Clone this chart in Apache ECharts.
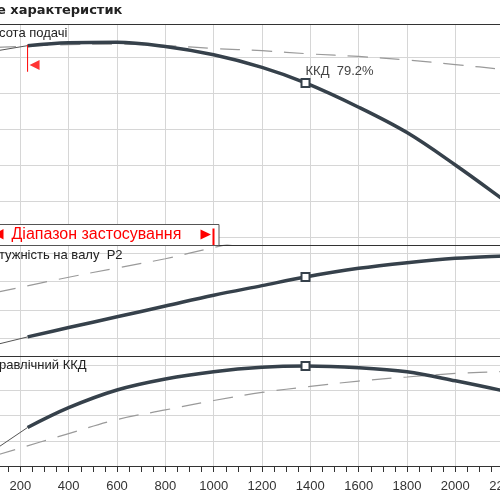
<!DOCTYPE html>
<html>
<head>
<meta charset="utf-8">
<script src="https://cdn.jsdelivr.net/npm/echarts@6/dist/echarts.min.js"></script>
<style>
  html, body { margin: 0; padding: 0; background: #fff; overflow: hidden; width: 500px; height: 500px; }
  /* the plot runs past both sides of the page, as in the cropped reference */
  #chart { position: absolute; left: -28px; top: 0; width: 580px; height: 500px; }
</style>
</head>
<body>
<div id="chart"></div>
<script>
// flow points of the working curves (thick part, inside the range)
const flow = [230, 400, 600, 800, 1000, 1200, 1380, 1600, 1800, 2000, 2200, 2300];
const headValues = [12.63, 12.79, 12.82, 12.58, 12.12, 11.42, 10.56, 9.21, 7.80, 6.00, 4.06, 3.06];
const powerValues = [0.525, 0.69, 0.88, 1.07, 1.26, 1.43, 1.583, 1.735, 1.835, 1.913, 1.955, 1.97];
const effValues = [30.5, 46.2, 60.2, 68.9, 74.7, 78.2, 79.2, 77.9, 74.7, 67.5, 59.5, 55.0];

// thin part of the curves, below the range
const flowLow = [110, 230];
const headLow = [12.36, 12.63];
const powerLow = [0.40, 0.525];
const effLow = [15.0, 30.5];

// dashed comparison curves
const flowRef = [100, 400, 600, 800, 1000, 1200, 1400, 1600, 1800, 2000, 2200, 2300];
const headRef = [12.53, 12.69, 12.72, 12.64, 12.47, 12.35, 12.17, 12.03, 11.83, 11.58, 11.31, 11.17];
const effRef = [8.5, 25.7, 36.8, 44.4, 51.9, 58.3, 63.0, 67.3, 70.5, 73.3, 74.9, 75.4];
const flowPowerRef = [100, 400, 600, 800, 1000, 1200];
const powerRef = [1.31, 1.578, 1.742, 1.905, 2.103, 2.29];

// duty point
const dutyFlow = 1380;
const dutyHead = 10.56;
const dutyPower = 1.583;
const dutyEff = 79.2;

// application range
const rangeStart = 230;
const rangeEnd = 1000;
const rangeMarkHead = [12.67, 11.18];

const darkColor = '#36414b';
const refColor = '#9a9a9a';
const gridColor = '#d6d6d6';
const font = 'Liberation Sans, Arial, sans-serif';
const OX = 28; // page x = chart x - OX

const pairs = (xs, ys) => xs.map((x, i) => [x, ys[i]]);

const chart = echarts.init(document.getElementById('chart'));

const xAxisBase = (gridIndex, showAxis) => ({
  type: 'value',
  gridIndex,
  min: 0,
  max: 2400,
  interval: 200,
  axisLine: { show: showAxis, onZero: false, lineStyle: { color: '#333', width: 1 } },
  axisTick: { show: showAxis, length: 6, lineStyle: { color: '#333' } },
  minorTick: { show: showAxis, splitNumber: 4, length: 6, lineStyle: { color: '#333' } },
  axisLabel: { show: showAxis, margin: 14, color: '#333', fontSize: 13, fontFamily: font, formatter: v => String(v) },
  splitLine: { show: true, showMinLine: false, showMaxLine: false, lineStyle: { color: gridColor, width: 1 } }
});

const yAxisBase = (gridIndex, max, interval) => ({
  type: 'value',
  gridIndex,
  min: 0,
  max,
  interval,
  axisLine: { show: false },
  axisTick: { show: false },
  axisLabel: { show: false },
  splitLine: { show: true, showMinLine: false, showMaxLine: false, lineStyle: { color: gridColor, width: 1 } }
});

const thick = (name, idx, data) => ({
  name, type: 'line', xAxisIndex: idx, yAxisIndex: idx, data,
  symbol: 'none', smooth: 0.35, z: 3,
  lineStyle: { color: darkColor, width: 3.5 }
});
const thin = (name, idx, data) => ({
  name, type: 'line', xAxisIndex: idx, yAxisIndex: idx, data,
  symbol: 'none', z: 3,
  lineStyle: { color: '#555', width: 1 }
});
const dashed = (name, idx, data) => ({
  name, type: 'line', xAxisIndex: idx, yAxisIndex: idx, data,
  symbol: 'none', smooth: 0.35, z: 2,
  lineStyle: { color: refColor, width: 1.2, type: [20, 12] }
});
const marker = (idx, value, label) => ({
  type: 'scatter', xAxisIndex: idx, yAxisIndex: idx,
  data: [[dutyFlow, value]],
  symbol: 'rect', symbolSize: 8, z: 6,
  itemStyle: { color: '#fff', borderColor: darkColor, borderWidth: 2, opacity: 1 },
  label: label ? {
    show: true, position: [5, -13], formatter: label,
    color: '#444', fontSize: 13, fontFamily: font
  } : { show: false }
});

const option = {
  animation: false,
  backgroundColor: '#fff',
  grid: [
    { left: 0, right: 0, top: 24, bottom: 227, outerBoundsMode: 'none' },
    { left: 0, right: 0, top: 245, bottom: 133.33, outerBoundsMode: 'none' },
    { left: 0, right: 0, top: 356, bottom: 34, outerBoundsMode: 'none' }
  ],
  xAxis: [xAxisBase(0, false), xAxisBase(1, false), xAxisBase(2, true)],
  yAxis: [yAxisBase(0, 13.833, 2), yAxisBase(1, 2.147, 0.5), yAxisBase(2, 87.13, 20)],
  series: [
    thick('head', 0, pairs(flow, headValues)),
    thin('headLow', 0, pairs(flowLow, headLow)),
    dashed('headRef', 0, pairs(flowRef, headRef)),
    thick('power', 1, pairs(flow, powerValues)),
    thin('powerLow', 1, pairs(flowLow, powerLow)),
    dashed('powerRef', 1, pairs(flowPowerRef, powerRef)),
    thick('eff', 2, pairs(flow, effValues)),
    thin('effLow', 2, pairs(flowLow, effLow)),
    dashed('effRef', 2, pairs(flowRef, effRef)),
    marker(0, dutyHead, 'ККД  ' + dutyEff + '%'),
    marker(1, dutyPower, null),
    marker(2, dutyEff, null),
    {
      type: 'line', xAxisIndex: 0, yAxisIndex: 0, symbol: 'none', z: 4,
      data: rangeMarkHead.map(v => [rangeStart, v]),
      lineStyle: { color: '#ff0000', width: 1 }
    },
    {
      type: 'scatter', xAxisIndex: 0, yAxisIndex: 0, z: 4,
      data: [[rangeStart, (rangeMarkHead[0] + rangeMarkHead[1] * 3) / 4]],
      symbol: 'triangle', symbolSize: [10, 10], symbolRotate: 90, symbolOffset: [7, 0],
      itemStyle: { color: '#ff0000' }
    }
  ]
};

chart.setOption(option);

// range box sits at the end of the application range
const endPx = Math.round(chart.convertToPixel({ xAxisIndex: 1 }, rangeEnd)) - 0.5;
const label = (text, x, y, size, weight, family) => ({
  type: 'text', x: x + OX, y, z: 30,
  style: { text, fill: '#222', fontSize: size, fontWeight: weight || 'normal', fontFamily: family || font, verticalAlign: 'middle' }
});
const hline = y => ({
  type: 'line', z: 25, shape: { x1: 0, y1: y, x2: 580, y2: y },
  style: { stroke: '#333', lineWidth: 1 }
});

chart.setOption({
  graphic: [
    hline(24.5), hline(245.5), hline(356.5),
    label('е характеристик', -3, 11, 13, 'bold', 'DejaVu Sans, Verdana, sans-serif'),
    label('сота подачі', -1, 33, 13),
    label('тужність на валу  P2', -1, 255, 13),
    label('равлічний ККД', -1, 365, 13),
    {
      type: 'rect', z: 26,
      shape: { x: OX - 10, y: 224.5, width: endPx - OX + 15.5, height: 21 },
      style: { fill: '#fff', stroke: '#555', lineWidth: 1 }
    },
    {
      type: 'polygon', z: 27,
      shape: { points: [[OX + 3.5, 229], [OX + 3.5, 239.5], [OX - 6, 234.2]] },
      style: { fill: '#ff0000' }
    },
    {
      type: 'polygon', z: 27,
      shape: { points: [[endPx - 13, 229.5], [endPx - 13, 239.5], [endPx - 2.5, 234.5]] },
      style: { fill: '#ff0000' }
    },
    {
      type: 'rect', z: 27,
      shape: { x: endPx - 1, y: 228.5, width: 2, height: 16.5 },
      style: { fill: '#ff0000' }
    },
    {
      type: 'text', x: OX + 11.5, y: 234.5, z: 27,
      style: { text: 'Діапазон застосування', fill: '#ff0000', fontSize: 16, fontFamily: font, verticalAlign: 'middle' }
    }
  ]
});
</script>
</body>
</html>
